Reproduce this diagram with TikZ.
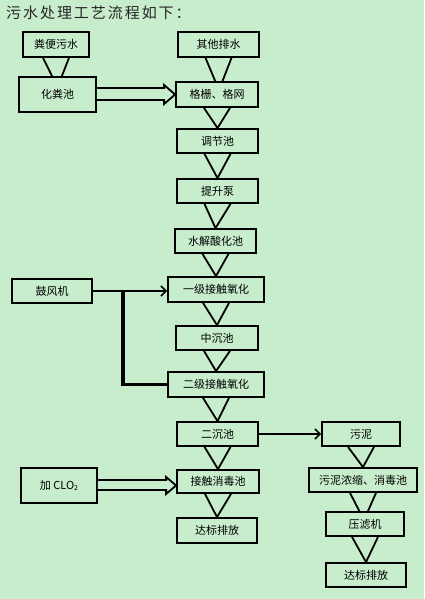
\documentclass[tikz,border=0pt]{standalone}
\usepackage{fontspec}
\setmainfont{Noto Sans CJK SC}
\newfontfamily\titlefont[LetterSpace=13]{Noto Sans CJK SC}
\usetikzlibrary{arrows.meta,calc}
\definecolor{bgc}{RGB}{199,237,204}
\pgfdeclarelayer{bgl}
\pgfdeclarelayer{conn}
\pgfsetlayers{bgl,conn,main}
\begin{document}
\begin{tikzpicture}[x=1pt,y=-1pt,
  box/.style={draw,line width=1.8pt,fill=bgc,rectangle,inner sep=0pt,
    font=\fontsize{11}{13}\selectfont},
  vline/.style={line width=1.8pt,line join=miter},
  hollow/.style={draw,line width=1.8pt,fill=bgc,line join=miter},
  larrow/.style={line width=1.6pt,-{Straight Barb[length=5pt,width=10pt]}},
  thick/.style={line width=3.2pt}]
\useasboundingbox (0,0) rectangle (424,599);
\begin{pgfonlayer}{bgl}
\fill[bgc] (0,0) rectangle (424,599);
\end{pgfonlayer}
\newcommand\vcon[2]{\draw[vline] ($(#1.south)+(-13,0)$) -- #2 -- ($(#1.south)+(13,0)$);}
% title
\node[anchor=west,inner sep=0pt,font=\titlefont\fontsize{15}{17}\selectfont,text=black!85] (title) at (6,13) {污水处理工艺流程如下：};
% boxes
\node[box,minimum width=66pt,minimum height=25pt] (fb) at (56,44.5) {粪便污水};
\node[box,minimum width=81pt,minimum height=25pt] (qt) at (218.5,44.5) {其他排水};
\node[box,minimum width=77pt,minimum height=35pt] (hfc) at (57.5,94.5) {化粪池};
\node[box,minimum width=82pt,minimum height=25pt] (gs) at (217,94.5) {格栅、格网};
\node[box,minimum width=81pt,minimum height=24pt] (tj) at (217.5,141) {调节池};
\node[box,minimum width=81pt,minimum height=24pt] (ts) at (217.5,191) {提升泵};
\node[box,minimum width=81pt,minimum height=24pt] (sj) at (215.5,241) {水解酸化池};
\node[box,minimum width=80pt,minimum height=24pt] (gf) at (52,291) {鼓风机};
\node[box,minimum width=96pt,minimum height=25pt] (y1) at (216,289.5) {一级接触氧化};
\node[box,minimum width=82pt,minimum height=24pt] (zc) at (217,338) {中沉池};
\node[box,minimum width=96pt,minimum height=25pt] (y2) at (216,384.5) {二级接触氧化};
\node[box,minimum width=81pt,minimum height=24pt] (ec) at (217.5,434) {二沉池};
\node[box,minimum width=78pt,minimum height=24pt] (wn) at (361,434) {污泥};
\node[box,minimum width=76pt,minimum height=35pt] (clo) at (59,485.5) {加 CLO\raisebox{-0.25ex}{\fontsize{7}{8}\selectfont 2}};
\node[box,minimum width=82pt,minimum height=23pt] (xd) at (218,481.5) {接触消毒池};
\node[box,minimum width=80pt,minimum height=25pt] (db1) at (217,530.5) {达标排放};
\node[box,minimum width=108pt,minimum height=24pt] (ns) at (363,480) {污泥浓缩、消毒池};
\node[box,minimum width=78pt,minimum height=24pt] (yl) at (365,524) {压滤机};
\node[box,minimum width=80pt,minimum height=24pt] (db2) at (366,575) {达标排放};
% connectors
\begin{pgfonlayer}{conn}
\vcon{fb}{($(hfc.north)+(0,11)$)}
\vcon{qt}{($(gs.north)+(2,9)$)}
\vcon{gs}{(tj.north)}
\vcon{tj}{(ts.north)}
\vcon{ts}{(sj.north)}
\vcon{sj}{(y1.north)}
\vcon{y1}{(zc.north)}
\vcon{zc}{(y2.north)}
\vcon{y2}{(ec.north)}
\vcon{ec}{(xd.north)}
\vcon{xd}{(db1.north)}
\vcon{wn}{(ns.north)}
\vcon{ns}{($(yl.north)+(-1,9)$)}
\vcon{yl}{(db2.north)}
\end{pgfonlayer}
% hollow arrows
\draw[hollow] ($(hfc.east)+(0,-6.5)$) -- ($(gs.west)+(-11,-6.5)$) -- ($(gs.west)+(-11,-9.5)$)
  -- (gs.west) -- ($(gs.west)+(-11,9.5)$) -- ($(gs.west)+(-11,5.5)$) -- ($(hfc.east)+(0,5.5)$);
\coordinate (xdw) at ($(xd.west)+(0,4)$);
\draw[hollow] ($(clo.east)+(0,-5.5)$) -- ($(xdw)+(-10,-5.5)$) -- ($(xdw)+(-10,-8.5)$)
  -- (xdw) -- ($(xdw)+(-10,8.5)$) -- ($(xdw)+(-10,4.5)$) -- ($(clo.east)+(0,4.5)$);
% line arrows
\draw[larrow] (gf.east) -- (gf.east -| y1.west);
\coordinate (br) at ($(gf.east)+(30,0)$);
\draw[thick] ($(br)+(0,-1)$) |- (y2.west);
\draw[larrow] (ec.east) -- (wn.west);
\end{tikzpicture}
\end{document}
